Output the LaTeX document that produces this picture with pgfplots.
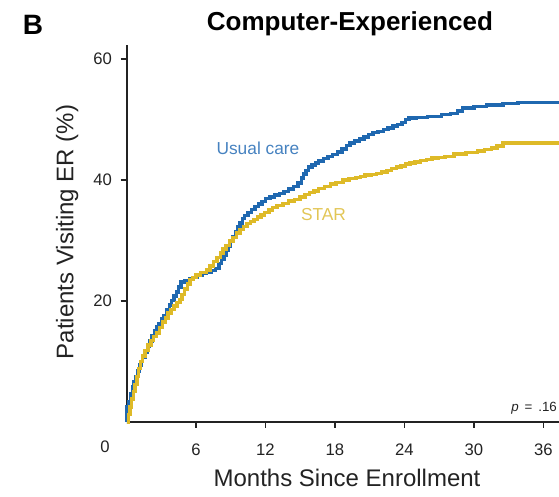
\documentclass[border=0pt]{standalone}
\usepackage{pgfplots}
\pgfplotsset{compat=1.18}
\usepackage{fontspec}
\setmainfont{Liberation Sans}

\definecolor{usualblue}{RGB}{31,104,176}
\definecolor{usuallabel}{RGB}{70,130,192}
\definecolor{staryellow}{RGB}{222,186,40}
\definecolor{starlabel}{RGB}{226,198,86}
\definecolor{axisgray}{RGB}{35,35,35}

% Cumulative ER visits, usual care arm (months, percent)
\pgfplotstableread{
m p
0 0
0.05 2.5
0.2 3.4
0.35 4.6
0.5 5.8
0.65 6.6
0.8 7.5
0.95 8.4
1.1 9.4
1.25 10.0
1.4 10.7
1.6 11.6
1.8 12.5
2.0 13.4
2.2 14.3
2.4 15.0
2.6 15.7
2.8 16.3
3.0 17.0
3.2 17.6
3.5 18.5
3.7 19.3
3.9 20.1
4.1 20.8
4.3 21.5
4.5 22.3
4.7 23.1
5.0 23.3
5.5 23.6
5.8 23.9
6.1 24.3
6.5 24.5
6.9 24.8
7.3 25.0
7.7 25.4
8.0 26.2
8.2 26.9
8.4 27.6
8.6 28.3
8.8 29.1
9.0 29.9
9.2 30.6
9.4 31.4
9.6 32.2
9.8 32.9
10.0 33.6
10.2 34.1
10.5 34.6
10.8 35.1
11.1 35.6
11.4 36.0
11.7 36.4
12.0 36.9
12.4 37.2
12.8 37.5
13.2 37.8
13.6 38.1
14.0 38.5
14.4 38.9
14.8 39.5
15.1 40.3
15.3 41.0
15.5 41.6
15.7 42.1
16.0 42.5
16.3 42.8
16.6 43.1
17.0 43.5
17.4 43.9
17.8 44.2
18.2 44.6
18.6 45.1
19.0 45.7
19.3 46.1
19.7 46.4
20.1 46.8
20.5 47.1
20.9 47.5
21.3 47.8
21.7 48.0
22.2 48.3
22.6 48.6
23.0 48.9
23.4 49.2
23.8 49.5
24.1 50.0
24.4 50.2
25.0 50.3
26.0 50.5
27.2 50.8
28.0 51.0
28.6 51.4
29.0 51.9
30.0 52.1
31.1 52.4
32.5 52.6
33.8 52.8
37.4 52.8
}\usualcare

% Cumulative ER visits, STAR arm (months, percent)
\pgfplotstableread{
m p
0 0
0.15 1.2
0.3 2.5
0.45 3.8
0.6 5.0
0.75 6.2
0.9 7.5
1.05 8.8
1.2 10.0
1.4 10.9
1.6 11.8
1.85 12.7
2.1 13.5
2.35 14.1
2.6 14.7
2.85 15.6
3.1 16.5
3.35 17.2
3.6 18.0
3.85 18.6
4.1 19.2
4.35 19.7
4.6 20.2
4.8 21.1
5.0 22.0
5.25 22.8
5.5 23.5
5.75 23.9
6.0 24.3
6.4 24.7
6.9 25.1
7.2 25.8
7.5 26.5
7.8 27.2
8.1 27.9
8.35 28.6
8.6 29.2
8.9 29.9
9.2 30.5
9.5 31.2
9.8 31.8
10.1 32.3
10.4 32.8
10.7 33.1
11.0 33.5
11.3 33.9
11.6 34.2
11.9 34.6
12.3 35.0
12.6 35.4
13.0 35.8
13.5 36.1
14.0 36.5
14.5 36.8
15.0 37.2
15.4 37.6
15.8 37.9
16.2 38.2
16.6 38.6
17.1 38.9
17.6 39.3
18.1 39.6
18.7 40.0
19.2 40.2
19.8 40.4
20.2 40.6
20.6 40.8
21.1 40.9
21.6 41.1
22.0 41.3
22.5 41.6
22.9 41.9
23.3 42.1
23.7 42.3
24.1 42.6
24.5 42.8
24.9 43.0
25.4 43.2
25.9 43.4
26.4 43.6
26.9 43.7
27.5 43.9
28.3 44.3
29.3 44.5
30.3 44.8
30.9 45.0
31.5 45.3
32.0 45.6
32.5 46.1
37.4 46.1
}\star

\begin{document}
\begin{tikzpicture}
\useasboundingbox (-94.9pt,-56.25pt) rectangle (324.4pt,316.5pt);
\begin{axis}[
  at={(0,0)}, anchor=south west,
  scale only axis,
  width=324.4pt, height=282.75pt,
  xmin=0, xmax=37.35, ymin=0, ymax=62.3,
  axis lines*=left,
  axis line style={axisgray, line width=1.5pt},
  xtick={6,12,18,24,30,36},
  ytick={20,40,60},
  tick align=outside,
  major tick length=4.5pt,
  tick style={axisgray, line width=1.2pt},
  /pgf/number format/assume math mode=true,
  tick label style={font=\fontsize{12.5}{13}\selectfont, text=axisgray},
  xticklabel style={anchor=center, yshift=-16pt},
  yticklabel style={anchor=center, xshift=-13.5pt},
  clip=false,
]
\addplot[const plot, usualblue, line width=2.6pt] table[x=m, y=p] {\usualcare};
\addplot[const plot, staryellow, line width=2.6pt] table[x=m, y=p] {\star};
\end{axis}
% panel letter, title, axis labels and annotations
\node[font=\bfseries\fontsize{21}{24}\selectfont] at (-70.1pt,297.75pt) {B};
\node[font=\bfseries\fontsize{19.5}{22}\selectfont] at (167.6pt,298.5pt) {Computer-Experienced};
\node[font=\fontsize{18}{20}\selectfont, text=axisgray] at (165.4pt,-42pt) {Months Since Enrollment};
\node[font=\fontsize{18}{20}\selectfont, text=axisgray, rotate=90] at (-44.6pt,142.5pt) {Patients Visiting ER (\%)};
\node[font=\fontsize{12.5}{13}\selectfont, text=axisgray] at (-16.1pt,-18.75pt) {0};
\node[font=\fontsize{13}{14}\selectfont, text=usuallabel] at (98.6pt,205.5pt) {Usual care};
\node[font=\fontsize{13}{14}\selectfont, text=starlabel] at (147.75pt,155.25pt) {STAR};
\node[font=\fontsize{10}{11}\selectfont, text=axisgray, anchor=east, inner sep=0pt] at (323pt,10.5pt) {\itshape p\upshape{}\, = \,.16};
\end{tikzpicture}
\end{document}
